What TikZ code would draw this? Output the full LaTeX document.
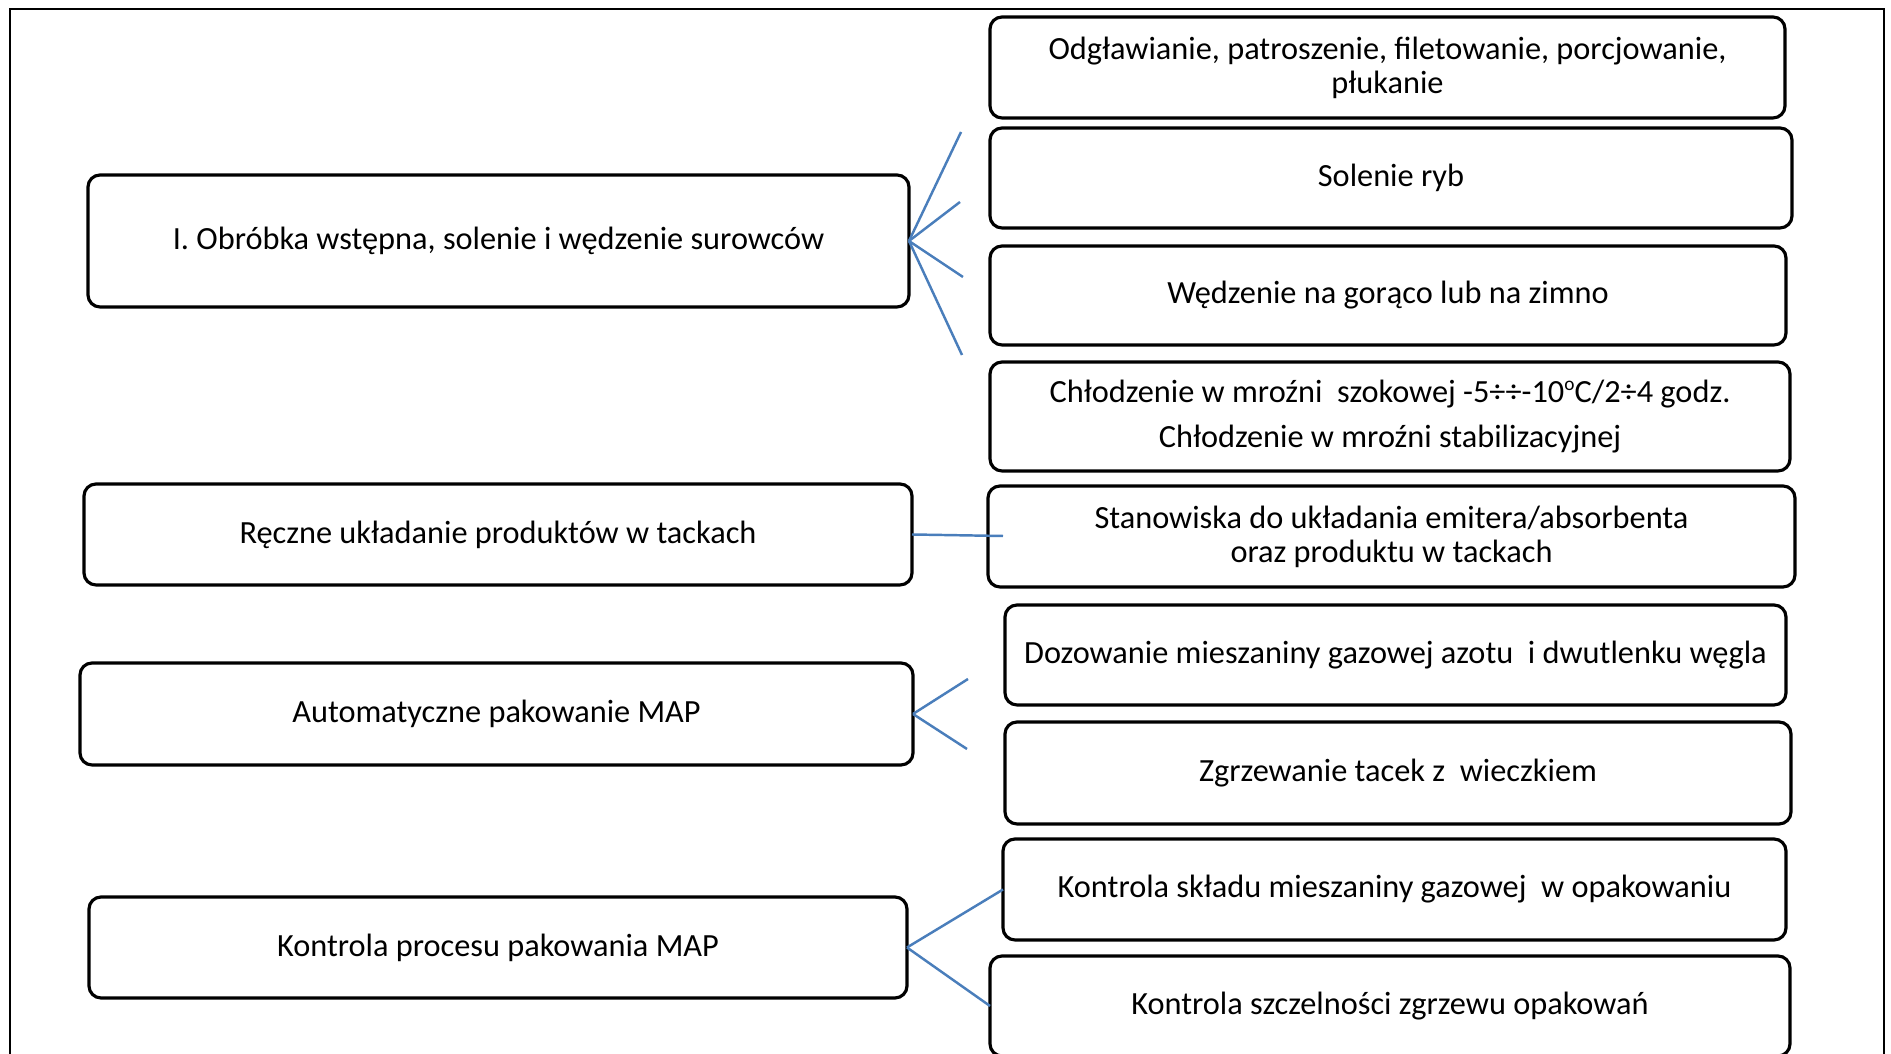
\documentclass[tikz,border=0pt]{standalone}
\usepackage{fontspec}
\setmainfont{Carlito}
\definecolor{linkblue}{HTML}{4A7EBB}

\begin{document}
\begin{tikzpicture}[x=0.1mm,y=-0.1mm,
    stage/.style={draw, line width=0.9pt, rounded corners=1.2mm, inner sep=0pt,
      outer sep=0pt, align=center, font=\fontsize{9.2}{9.7}\selectfont},
    link/.style={draw=linkblue, line width=0.7pt}]
\useasboundingbox (0,0) rectangle (1891,1054);
\clip (0,0) rectangle (1891,1054);
\draw[line width=0.6pt] (10,9) rectangle (1884,1090);

% Nodes
\node[stage, minimum width=82.1mm, minimum height=13.2mm] (obrobka) at (498.5,241) {I. Obróbka wstępna, solenie i wędzenie surowców};
\node[stage, minimum width=79.5mm, minimum height=10.1mm] (odglawianie) at (1387.5,67.5) {Odgławianie, patroszenie, filetowanie, porcjowanie,\\płukanie};
\node[stage, minimum width=80.2mm, minimum height=10.0mm] (solenie) at (1391,178) {Solenie ryb};
\node[stage, minimum width=79.6mm, minimum height=9.9mm] (wedzenie) at (1388,295.5) {Wędzenie na gorąco lub na zimno};
\node[stage, minimum width=80.0mm, minimum height=10.9mm] (chlodzenie) at (1390,416.5) {Chłodzenie w mroźni~ szokowej -5÷÷-10\raisebox{0.75ex}{\fontsize{5.5}{6}\selectfont o}C/2÷4 godz.\\[3.2pt]Chłodzenie w mroźni stabilizacyjnej};
\node[stage, minimum width=82.8mm, minimum height=10.1mm] (reczne) at (498,534.5) {Ręczne układanie produktów w tackach};
\node[stage, minimum width=80.7mm, minimum height=10.1mm] (stanowiska) at (1391.5,536.5) {Stanowiska do układania emitera/absorbenta\\oraz produktu w tackach};
\node[stage, minimum width=83.3mm, minimum height=10.2mm] (automat) at (496.5,714) {Automatyczne pakowanie MAP};
\node[stage, minimum width=78.1mm, minimum height=10.0mm] (dozowanie) at (1395.5,655) {Dozowanie mieszaniny gazowej azotu~ i dwutlenku węgla};
\node[stage, minimum width=78.6mm, minimum height=10.2mm] (zgrzewanie) at (1398,773) {Zgrzewanie tacek z~ wieczkiem};
\node[stage, minimum width=81.8mm, minimum height=10.1mm] (kontrola) at (498,947.5) {Kontrola procesu pakowania MAP};
\node[stage, minimum width=78.3mm, minimum height=10.1mm] (sklad) at (1394.5,889.5) {Kontrola składu mieszaniny gazowej~ w opakowaniu};
\node[stage, minimum width=80.0mm, minimum height=10.0mm] (szczelnosc) at (1390,1006) {Kontrola szczelności zgrzewu opakowań};

% Free ends
\coordinate (f1) at (961,132);
\coordinate (f2) at (960,202);
\coordinate (f3) at (963,277);
\coordinate (f4) at (962,355);
\coordinate (f5) at (1003,536);
\coordinate (f6) at (968,679);
\coordinate (f7) at (967,749);

% Edges
\draw[link] (obrobka.east) -- (f1);
\draw[link] (obrobka.east) -- (f2);
\draw[link] (obrobka.east) -- (f3);
\draw[link] (obrobka.east) -- (f4);
\draw[link] (reczne.east) -- (f5);
\draw[link] (automat.east) -- (f6);
\draw[link] (automat.east) -- (f7);
\draw[link] (kontrola.east) -- (sklad.west);
\draw[link] (kontrola.east) -- (szczelnosc.west);
\end{tikzpicture}
\end{document}
